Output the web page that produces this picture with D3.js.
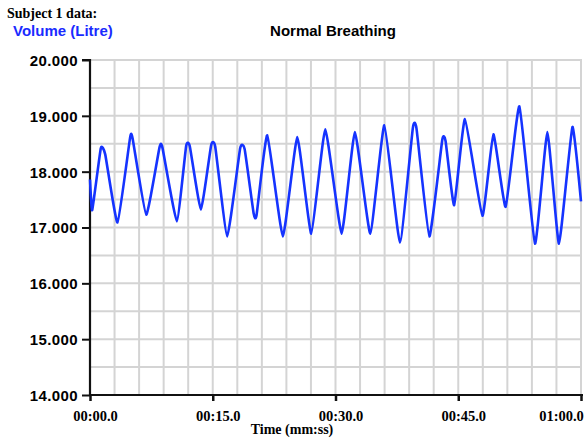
<!DOCTYPE html>
<html>
<head>
<meta charset="utf-8">
<script src="https://cdn.jsdelivr.net/npm/d3@7"></script>
<style>
  body { margin: 0; background: #fff; }
  svg { display: block; }
</style>
</head>
<body>
<div id="chart"></div>
<script>
// time in seconds, volume in litres
const times = [0, 0.27, 1.32, 1.86, 3.36, 4.9, 5.2, 6.87, 8.5, 8.85,
  10.61, 11.75, 12.2, 13.55, 14.8, 15.3, 16.77, 18.35, 18.9, 20.0,
  20.35, 21.66, 23.57, 25.33, 27.04, 28.75, 30.75, 32.37, 34.25, 35.97,
  37.87, 39.45, 39.9, 41.47, 43.05, 43.45, 44.5, 45.82, 47.95, 49.29,
  50.79, 52.47, 54.38, 55.89, 57.31, 58.95, 60];
const volumes = [17.86, 17.31, 18.42, 18.31, 17.09, 18.61, 18.60, 17.23, 18.44, 18.43,
  17.11, 18.46, 18.45, 17.32, 18.47, 18.45, 16.84, 18.42, 18.40, 17.25,
  17.22, 18.65, 16.84, 18.62, 16.89, 18.76, 16.89, 18.71, 16.89, 18.83,
  16.73, 18.78, 18.77, 16.84, 18.57, 18.55, 17.40, 18.94, 17.21, 18.67,
  17.37, 19.17, 16.71, 18.71, 16.71, 18.80, 17.47];

const xTicks = [0, 15, 30, 45, 60];
const xTickLabels = ["00:00.0", "00:15.0", "00:30.0", "00:45.0", "01:00.0"];
const yTicks = [14, 15, 16, 17, 18, 19, 20];

const data = times.map((t, i) => ({t: t, v: volumes[i]}));

const W = 584, H = 441;
const plotLeft = 90, plotRight = 581, plotTop = 60, plotBottom = 395;

const svg = d3.select("#chart").append("svg")
    .attr("width", W)
    .attr("height", H);

const x = d3.scaleLinear().domain([0, 60]).range([plotLeft, plotRight]);
const y = d3.scaleLinear().domain([14, 20]).range([plotBottom, plotTop]);

// grid
svg.append("g")
  .selectAll("line")
  .data(d3.range(3, 61, 3))
  .join("line")
    .attr("x1", d => x(d)).attr("x2", d => x(d))
    .attr("y1", plotTop).attr("y2", plotBottom)
    .attr("stroke", "#d4d4d4")
    .attr("stroke-width", 2);

svg.append("g")
  .selectAll("line")
  .data(d3.range(14.5, 20.01, 0.5))
  .join("line")
    .attr("x1", plotLeft).attr("x2", plotRight + 1)
    .attr("y1", d => y(d)).attr("y2", d => y(d))
    .attr("stroke", "#d4d4d4")
    .attr("stroke-width", 2);

// y axis
const yAxis = svg.append("g")
    .attr("transform", "translate(" + plotLeft + ",0)")
    .call(d3.axisLeft(y).tickValues(yTicks).tickFormat(d3.format(".3f")).tickSize(8).tickPadding(4));
yAxis.select(".domain").attr("stroke", "#111").attr("stroke-width", 2.2).attr("d", "M-8," + plotTop + "H0V" + plotBottom);
yAxis.selectAll(".tick line").attr("stroke", "#111").attr("stroke-width", 2);
yAxis.selectAll("text")
    .attr("fill", "#000")
    .style("font-family", "'Liberation Sans', Arial, sans-serif")
    .style("font-weight", "bold")
    .style("font-size", "15px")
    .style("letter-spacing", "0.4px")
    .attr("dy", "0.36em");

// x axis
const xAxis = svg.append("g")
    .attr("transform", "translate(0," + plotBottom + ")")
    .call(d3.axisBottom(x).tickValues(xTicks).tickFormat((d, i) => xTickLabels[i]).tickSize(6).tickPadding(10));
xAxis.select(".domain").attr("stroke", "#111").attr("stroke-width", 2.2).attr("d", "M" + plotLeft + ",0H" + (plotRight + 2));
xAxis.selectAll(".tick line").attr("stroke", "#111").attr("stroke-width", 2.5);
xAxis.selectAll("text")
    .attr("fill", "#000")
    .style("font-family", "'Liberation Serif', 'Times New Roman', serif")
    .style("font-weight", "bold")
    .style("font-size", "14.5px")
    .attr("dx", (d, i) => i === xTicks.length - 1 ? -20 : 5);

// trace
svg.append("path")
    .datum(data)
    .attr("fill", "none")
    .attr("stroke", "#1533ff")
    .attr("stroke-width", 2.6)
    .attr("stroke-linejoin", "round")
    .attr("d", d3.line()
        .x(d => x(d.t))
        .y(d => y(d.v))
        .curve(d3.curveCardinal.tension(0.6)));

// titles
svg.append("text")
    .attr("x", 7).attr("y", 18)
    .style("font-family", "'Liberation Serif', 'Times New Roman', serif")
    .style("font-weight", "bold")
    .style("font-size", "14px")
    .text("Subject 1 data:");

svg.append("text")
    .attr("x", 13).attr("y", 36)
    .attr("fill", "#1a2bff")
    .style("font-family", "'Liberation Sans', Arial, sans-serif")
    .style("font-weight", "bold")
    .style("font-size", "15px")
    .text("Volume (Litre)");

svg.append("text")
    .attr("x", 333).attr("y", 36)
    .attr("text-anchor", "middle")
    .style("font-family", "'Liberation Sans', Arial, sans-serif")
    .style("font-weight", "bold")
    .style("font-size", "15px")
    .text("Normal Breathing");

svg.append("text")
    .attr("x", 292).attr("y", 434)
    .attr("text-anchor", "middle")
    .style("font-family", "'Liberation Serif', 'Times New Roman', serif")
    .style("font-weight", "bold")
    .style("font-size", "14px")
    .text("Time (mm:ss)");
</script>
</body>
</html>
